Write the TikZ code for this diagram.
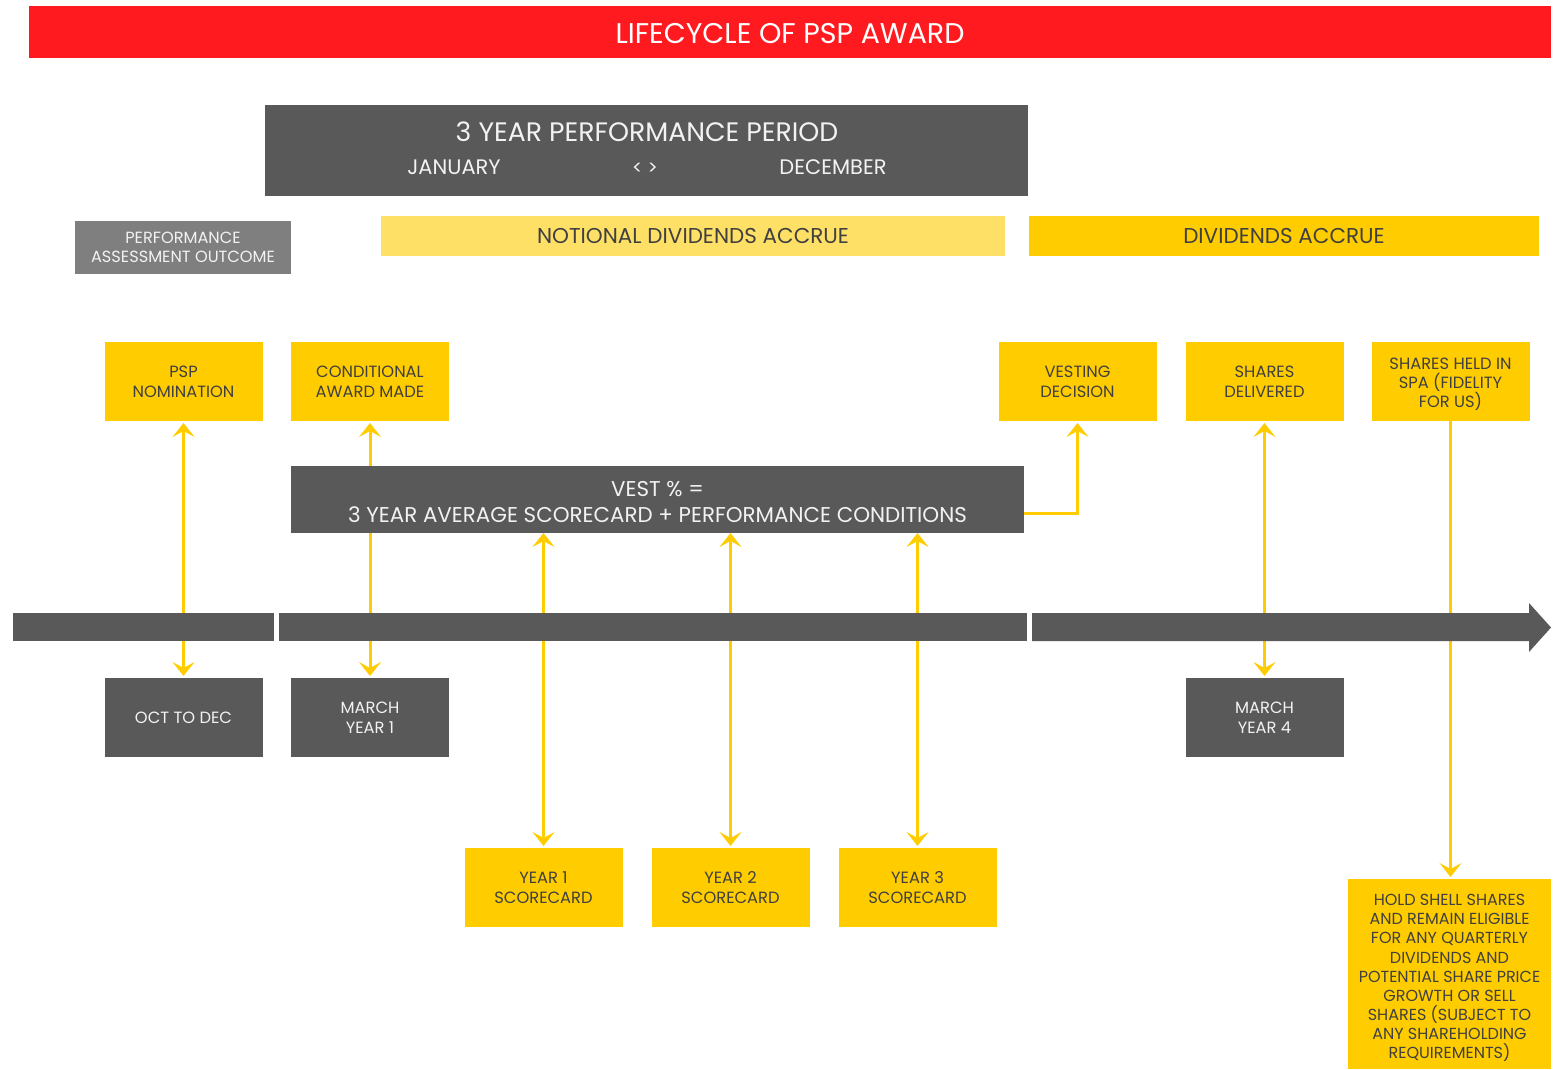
\documentclass[tikz,border=0pt]{standalone}
\usepackage{fontspec}
\setmainfont{Poppins}
\usetikzlibrary{arrows.meta,calc}
\definecolor{pspred}{HTML}{FF1A1F}
\definecolor{dgray}{HTML}{595959}
\definecolor{mgray}{HTML}{7F7F7F}
\definecolor{gold}{HTML}{FFCC00}
\definecolor{lgold}{HTML}{FFE066}
\definecolor{txtdark}{HTML}{404040}
\definecolor{txtlight}{HTML}{F2F2F2}
\pgfdeclarelayer{conn}
\pgfsetlayers{conn,main}
\tikzset{
  box/.style={rectangle, inner sep=0pt, outer sep=0pt, align=center, minimum width=158pt, minimum height=79pt},
  sfont/.style={font=\fontsize{16.3}{20}\selectfont},
  ybox/.style={box, fill=gold, text=txtdark, sfont},
  gbox/.style={box, fill=dgray, text=txtlight, sfont},
  tip/.tip={Stealth[length=14pt, width=22pt, inset=6pt]},
  link/.style={draw=gold, line width=3pt, tip-tip, shorten <=2pt, shorten >=2pt},
  linkone/.style={draw=gold, line width=3pt, -tip, shorten >=2pt},
  bar/.style={fill=dgray},
  txt/.style={inner sep=0pt, anchor=center, align=center}
}
\begin{document}
\begin{tikzpicture}[x=1pt,y=-1pt]
\useasboundingbox (0,0) rectangle (1559,1070);

% title
\node[rectangle, fill=pspred, minimum width=1522pt, minimum height=52pt, inner sep=0pt] (title) at (790,32) {};
\node[txt, text=white, font=\fontsize{28.5}{34}\selectfont] (titletext) at (790,33.5) {LIFECYCLE OF PSP AWARD};

% performance period
\node[rectangle, fill=dgray, minimum width=763pt, minimum height=91pt, inner sep=0pt] (period) at (646.5,150.5) {};
\node[txt, text=txtlight, font=\fontsize{26.7}{32}\selectfont] (ptitle) at (647,131.5) {3 YEAR PERFORMANCE PERIOD};
\node[txt, text=txtlight, font=\fontsize{21}{24}\selectfont] (jan) at (454,167.5) {JANUARY};
\node[txt, text=txtlight, font=\fontsize{19}{24}\selectfont] (ltgt) at (645,169) {< >};
\node[txt, text=txtlight, font=\fontsize{21}{24}\selectfont] (dec) at (833,167.5) {DECEMBER};

% assessment, dividends
\node[box, fill=mgray, text=txtlight, minimum width=216pt, minimum height=53pt,
      font=\fontsize{16.2}{19}\selectfont] (pao) at (183,247.5) {PERFORMANCE\\ASSESSMENT OUTCOME};
\node[box, fill=lgold, text=txtdark, minimum width=624pt, minimum height=40pt,
      font=\fontsize{21.5}{24}\selectfont] (notional) at (693,236) {NOTIONAL DIVIDENDS ACCRUE};
\node[box, fill=gold, text=txtdark, minimum width=510pt, minimum height=40pt,
      font=\fontsize{21.5}{24}\selectfont] (divs) at (1284,236) {DIVIDENDS ACCRUE};

% top row
\node[ybox] (psp) at (183.5,381.5) {PSP\\NOMINATION};
\node[ybox] (cam) at (370,381.5) {CONDITIONAL\\AWARD MADE};
\node[ybox] (vd)  at (1077.5,381.5) {VESTING\\DECISION};
\node[ybox] (sd)  at (1264.5,381.5) {SHARES\\DELIVERED};
\node[box, fill=gold] (spa) at (1450.5,381.5) {};
\node[txt, text=txtdark, font=\fontsize{16.3}{19}\selectfont] (spatext) at (1450.5,384) {SHARES HELD IN\\SPA (FIDELITY\\FOR US)};

% vest box
\node[box, fill=dgray, minimum width=733pt, minimum height=67pt] (vest) at (657.5,499.5) {};
\node[txt, text=txtlight, font=\fontsize{21.4}{26}\selectfont] (vesttext) at (657.5,501.5) {VEST \% =\\3 YEAR AVERAGE SCORECARD + PERFORMANCE CONDITIONS};

% bottom gray row
\node[gbox] (oct) at (183.5,717.5) {OCT TO DEC};
\node[gbox] (my1) at (370,717.5) {MARCH\\YEAR 1};
\node[gbox] (my4) at (1264.5,717.5) {MARCH\\YEAR 4};

% scorecards
\node[ybox] (y1) at (543.5,887.5) {YEAR 1\\SCORECARD};
\node[ybox] (y2) at (730.5,887.5) {YEAR 2\\SCORECARD};
\node[ybox] (y3) at (917.5,887.5) {YEAR 3\\SCORECARD};

% hold box
\node[box, fill=gold, minimum width=203pt, minimum height=190pt] (hold) at (1449.5,974) {};
\node[txt, text=txtdark, font=\fontsize{16}{19.1}\selectfont] (holdtext) at (1449.5,978)
  {HOLD SHELL SHARES\\AND REMAIN ELIGIBLE\\FOR ANY QUARTERLY\\DIVIDENDS AND\\POTENTIAL SHARE PRICE\\GROWTH OR SELL\\SHARES (SUBJECT TO\\ANY SHAREHOLDING\\REQUIREMENTS)};

% timeline
\fill[bar] (13,613) rectangle (274,641);
\fill[bar] (279,613) rectangle (1027,641);
\fill[bar] (1032,613) -- (1529,613) -- (1529,603) -- (1551,627.5) -- (1529,652) -- (1529,641) -- (1032,641) -- cycle;

% connectors
\begin{pgfonlayer}{conn}
\draw[link] (psp.south) -- (oct.north);
\draw[link] (cam.south) -- (my1.north);
\draw[link] (sd.south) -- (my4.north);
\draw[link, shorten <=0pt] (vest.south -| y1.north) -- (y1.north);
\draw[link, shorten <=0pt] (vest.south -| y2.north) -- (y2.north);
\draw[link, shorten <=0pt] (vest.south -| y3.north) -- (y3.north);
\draw[linkone] ($(vest.east)+(-2,14)$) -| (vd.south);
\draw[linkone] (spa.south) -- (spa.south |- hold.north);
\end{pgfonlayer}
\end{tikzpicture}
\end{document}
